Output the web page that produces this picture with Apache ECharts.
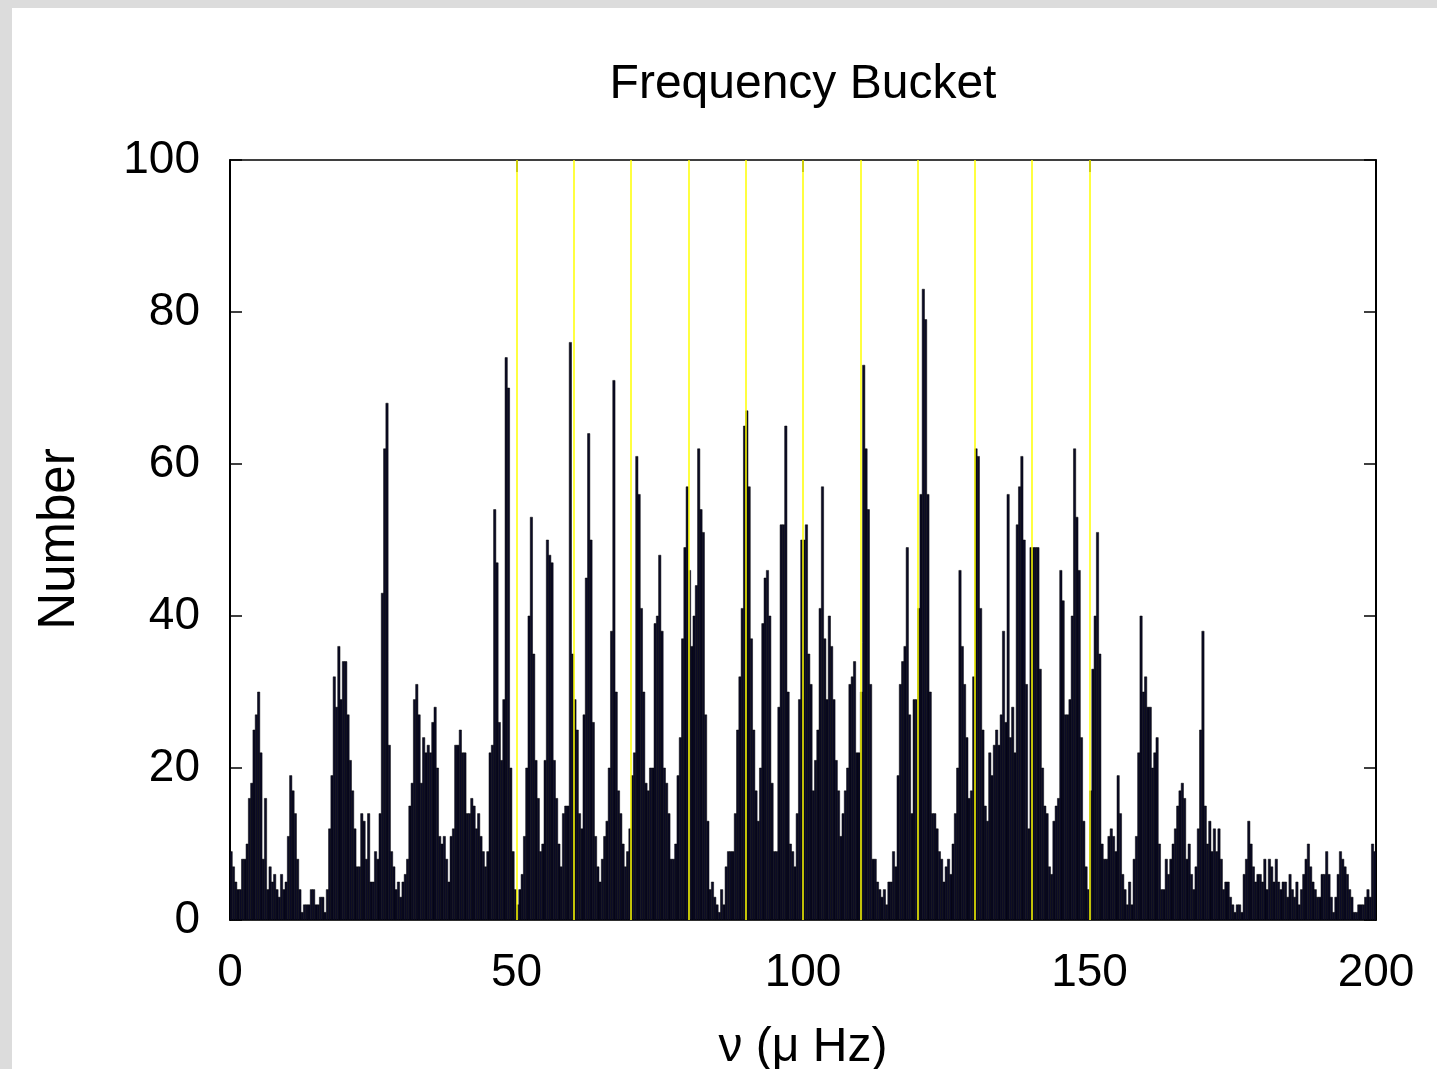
<!DOCTYPE html>
<html>
<head>
<meta charset="utf-8">
<title>Frequency Bucket</title>
<script src="https://cdn.jsdelivr.net/npm/echarts/dist/echarts.min.js"></script>
<style>
  html, body { margin: 0; padding: 0; background: #dcdcdc; overflow: hidden; }
  #chart { position: absolute; left: 12px; top: 8px; width: 1425px; height: 1061px; background: #fff; }
</style>
</head>
<body>
<div id="chart"></div>
<script>
  // bin width in µHz, counts, 50 bins per 20 µHz
  var binWidth = 0.4;
  var bins0to20 = [9,7,5,4,4,8,8,10,16,18, 25,27,30,22,8,16,4,7,5,6, 4,3,6,4,5,11,19,17,14,8, 4,1,2,2,2,4,4,2,2,3, 3,1,4,12,19,32,28,36,29,34];
  var bins20to40 = [34,27,21,17,12,7,7,14,13,8, 14,5,5,9,8,14,43,62,68,23, 9,7,4,5,3,5,6,8,15,18, 29,31,27,18,24,22,23,22,26,28, 20,11,10,11,8,5,11,12,23,23];
  var bins40to60 = [25,22,22,14,14,16,15,12,14,11, 9,7,9,22,23,54,47,26,21,29, 74,70,20,9,4,2,4,6,11,20, 40,53,35,21,16,9,10,21,50,48, 47,21,16,10,7,14,15,15,76,35];
  var bins60to80 = [29,25,14,12,27,45,64,50,26,11, 7,5,8,11,13,20,38,71,30,17, 14,10,7,9,12,19,22,61,56,41, 30,18,17,20,20,39,40,48,38,20, 18,14,8,8,10,19,24,37,49,57];
  var bins80to100 = [46,36,40,44,62,54,51,27,13,4, 5,3,2,1,4,2,7,9,9,9, 14,25,32,41,65,67,57,37,25,17, 13,20,39,45,46,40,18,9,9,28, 52,52,65,30,10,9,7,14,29,50];
  var bins100to120 = [50,52,35,31,17,21,25,41,57,37, 29,40,36,29,21,17,11,14,17,20, 31,32,34,22,22,30,73,62,54,31, 8,8,5,4,3,4,2,5,5,9, 7,19,31,34,36,49,27,14,29,29];
  var bins120to140 = [41,56,83,79,56,30,14,14,12,9, 8,5,7,8,6,10,14,20,46,36, 31,24,16,17,32,62,61,41,25,15, 13,22,19,23,25,23,27,38,26,56, 24,28,22,52,57,61,50,31,12,49];
  var bins140to160 = [49,49,49,33,20,15,14,7,6,13, 15,16,46,42,27,27,29,40,62,53, 46,24,13,7,4,17,33,40,51,35, 10,8,8,11,12,11,9,19,14,6, 4,2,5,2,8,11,22,40,30,32];
  var bins160to180 = [28,28,20,22,24,10,4,4,8,6, 8,10,12,15,17,18,16,8,10,6, 4,7,12,25,38,15,10,13,9,12, 9,12,8,4,5,5,3,2,1,2, 2,1,6,8,13,10,7,5,6,6];
  var bins180to200 = [5,8,4,8,7,5,8,5,4,5, 5,3,6,4,3,5,2,4,6,8, 10,7,5,4,3,3,6,6,9,6, 3,1,3,6,9,8,7,6,4,3, 1,1,2,2,2,3,4,3,10,9];

  var markerFreqs = [50, 60, 70, 80, 90, 100, 110, 120, 130, 140, 150];
  var xTicks = [0, 50, 100, 150, 200];
  var yTicks = [0, 20, 40, 60, 80, 100];

  var counts = [].concat(bins0to20, bins20to40, bins40to60, bins60to80, bins80to100,
    bins100to120, bins120to140, bins140to160, bins160to180, bins180to200);

  var boxes = counts.map(function (c, i) {
    return [i * binWidth, (i + 1) * binWidth, c];
  });

  var font = '"Liberation Sans", Arial, Helvetica, sans-serif';

  function axisX(pos, labels) {
    return {
      type: 'value', position: pos,
      min: xTicks[0], max: xTicks[xTicks.length - 1], interval: xTicks[1] - xTicks[0],
      axisLine: { show: true, onZero: false, lineStyle: { color: '#000', width: 1.5 } },
      axisTick: { show: true, inside: true, length: 12, lineStyle: { color: '#000', width: 1.5 } },
      axisLabel: { show: labels, color: '#000', fontSize: 46, fontFamily: font, margin: 30 },
      splitLine: { show: false }
    };
  }
  function axisY(pos, labels) {
    return {
      type: 'value', position: pos,
      min: yTicks[0], max: yTicks[yTicks.length - 1], interval: yTicks[1] - yTicks[0],
      axisLine: { show: true, onZero: false, lineStyle: { color: '#000', width: 2 } },
      axisTick: { show: true, inside: true, length: 12, lineStyle: { color: '#000', width: 1.5 } },
      axisLabel: { show: labels, color: '#000', fontSize: 46, fontFamily: font, margin: 30 },
      splitLine: { show: false }
    };
  }

  var chart = echarts.init(document.getElementById('chart'));
  chart.setOption({
    animation: false,
    backgroundColor: '#fff',
    grid: { left: 218, top: 152, width: 1146, height: 760, outerBoundsMode: 'none' },
    xAxis: [axisX('bottom', true), axisX('top', false)],
    yAxis: [axisY('left', true), axisY('right', false)],
    graphic: [
      { type: 'text', x: 791, y: 77, style: { text: 'Frequency Bucket', font: '48px ' + font, fill: '#000', textAlign: 'center', textVerticalAlign: 'middle' } },
      { type: 'text', x: 48, y: 531, rotation: Math.PI / 2, style: { text: 'Number', font: '51px ' + font, fill: '#000', textAlign: 'center', textVerticalAlign: 'middle' } },
      { type: 'text', x: 791, y: 1040, style: { text: 'ν (μ Hz)', font: '48px ' + font, fill: '#000', textAlign: 'center', textVerticalAlign: 'middle' } }
    ],
    series: [
      {
        type: 'custom',
        data: boxes,
        encode: { x: [0, 1], y: 2 },
        renderItem: function (params, api) {
          var top = api.coord([api.value(0), api.value(2)]);
          var bottom = api.coord([api.value(1), 0]);
          return {
            type: 'rect',
            shape: { x: top[0], y: top[1], width: bottom[0] - top[0], height: bottom[1] - top[1] },
            style: { fill: '#0b0b26', stroke: '#000', lineWidth: 0.5 }
          };
        },
        z: 2
      },
      {
        type: 'line',
        data: [],
        z: 5,
        markLine: {
          silent: true,
          symbol: 'none',
          label: { show: false },
          lineStyle: { color: '#ffff00', width: 1.5, type: 'solid' },
          data: markerFreqs.map(function (f) { return { xAxis: f }; })
        }
      }
    ]
  });
</script>
</body>
</html>
